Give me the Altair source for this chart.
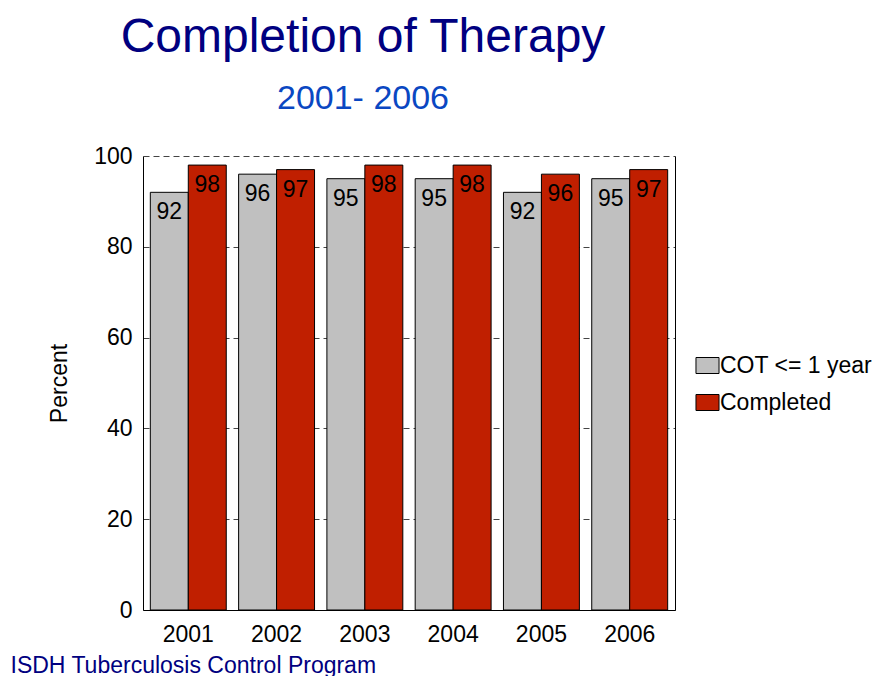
import altair as alt
import pandas as pd

years = ["2001", "2002", "2003", "2004", "2005", "2006"]
cot = [92, 96, 95, 95, 92, 95]
completed = [98, 97, 98, 98, 96, 97]
series = ["COT <= 1 year", "Completed"]
colors = ["#C0C0C0", "#C01F00"]

rows = []
for i, y in enumerate(years):
    rows.append({"year": y, "series": series[0], "value": cot[i]})
    rows.append({"year": y, "series": series[1], "value": completed[i]})
df = pd.DataFrame(rows)

FONT = "Liberation Sans"

x_enc = alt.X(
    "year:N",
    sort=years,
    scale=alt.Scale(paddingInner=0.14, paddingOuter=0.083),
    axis=alt.Axis(
        title="ISDH Tuberculosis Control Program",
        titleX=-133,
        titleY=62,
        titleAlign="left",
        titleAnchor="start",
        titleBaseline="alphabetic",
        titleColor="#000080",
        titleFontSize=23,
        titleFontWeight="normal",
        labelFontSize=23,
        labelColor="black",
        labelAngle=0,
        labelPadding=13,
        ticks=False,
        domainColor="black",
        grid=False,
    ),
)
xoff = alt.XOffset("series:N", sort=series, scale=alt.Scale(paddingInner=0, paddingOuter=0))

bars = alt.Chart(df).mark_bar(stroke="black", strokeWidth=1, opacity=1).encode(
    x=x_enc,
    xOffset=xoff,
    y=alt.Y(
        "value:Q",
        scale=alt.Scale(domain=[0, 100], nice=False),
        axis=alt.Axis(
            values=[0, 20, 40, 60, 80, 100],
            title="Percent",
            titleFontSize=23,
            titleFontWeight="normal",
            titleColor="black",
            titleX=-77,
            titleBaseline="alphabetic",
            labelFontSize=23,
            labelColor="black",
            labelPadding=11,
            ticks=False,
            domainColor="black",
            grid=True,
            gridColor="#444444",
            gridDash=[6, 4],
            gridWidth=1,
        ),
    ),
    color=alt.Color(
        "series:N",
        sort=series,
        scale=alt.Scale(domain=series, range=colors),
        legend=alt.Legend(
            title=None,
            orient="none",
            legendX=553,
            legendY=198,
            padding=0,
            labelFontSize=23,
            labelColor="black",
            labelOffset=1,
            rowPadding=13,
            symbolType="M-1.44,-1H1.44V1H-1.44Z",
            symbolSize=256,
            symbolStrokeColor="black",
            symbolStrokeWidth=1,
            symbolOpacity=1,
        ),
    ),
)

labels = alt.Chart(df).mark_text(
    baseline="top", dy=9, fontSize=23, color="black", font=FONT
).encode(
    x=alt.X("year:N", sort=years),
    xOffset=xoff,
    y=alt.Y(
        "value:Q",
        axis=alt.Axis(orient="right", labels=False, ticks=False, grid=False,
                      domainColor="black", title=None),
    ),
    text=alt.Text("value:Q"),
)

chart = alt.layer(bars, labels).resolve_axis(y="independent").properties(
    width=532,
    height=454,
    autosize=alt.AutoSizeParams(type="none"),
    padding={"left": 135, "top": 148, "right": 204, "bottom": 66},
    title=alt.TitleParams(
        text="Completion of Therapy",
        subtitle="2001- 2006",
        anchor="middle",
        dx=-46,
        fontSize=48,
        fontWeight="normal",
        color="#000080",
        subtitleFontSize=34,
        subtitleColor="#0A47C2",
        subtitlePadding=20,
        offset=29,
        font=FONT,
        subtitleFont=FONT,
    ),
).configure(font=FONT).configure_view(stroke=None)

chart.save("out.html", embed_options={"renderer": "svg", "actions": False})
